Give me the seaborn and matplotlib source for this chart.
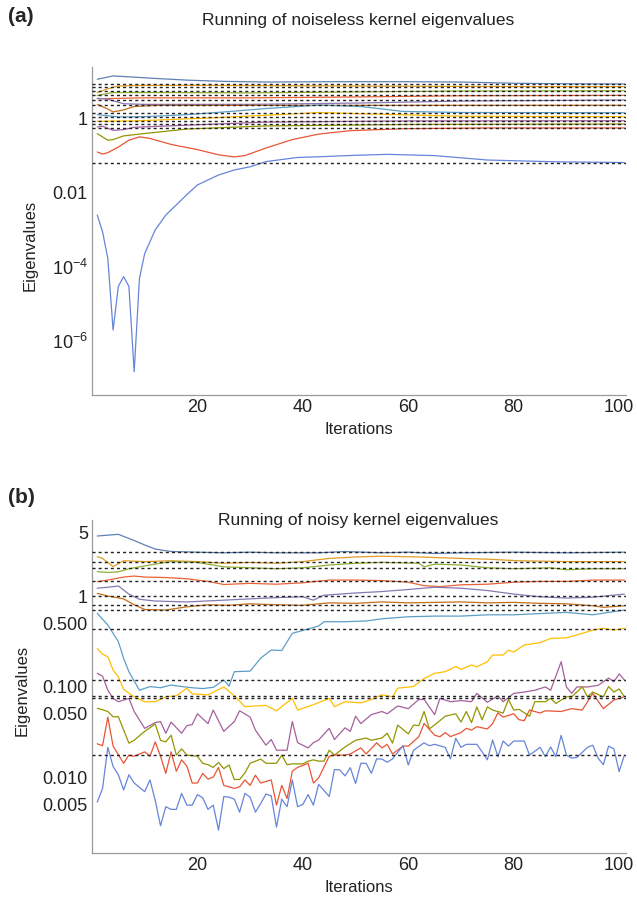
import numpy as np
import pandas as pd
import matplotlib
matplotlib.use('Agg')
import matplotlib.pyplot as plt
import seaborn as sns
from matplotlib.ticker import FixedLocator, FixedFormatter, NullFormatter

# Mathematica default plot colours
palette = ['#5E81B5', '#E19C24', '#8FB032', '#EB6235', '#8778B3', '#C56E1A',
           '#5D9EC7', '#FFBF00', '#A5609D', '#929600', '#E95536', '#6685D9']

# ---------------- (a) noiseless kernel ----------------
a_targets = [8.5, 7.2, 5.6, 4.2, 3.15, 2.27, 1.43, 1.12, 0.87, 0.71, 0.555, 0.062]

a1_it = [1, 4, 8, 12, 18, 25, 33, 45, 60, 70, 80, 90, 101]
a1_val = [11.4, 14, 13, 12, 10.8, 10.0, 9.6, 9.8, 9.8, 9.6, 8.9, 8.6, 8.5]
a2_it = [1, 3, 5, 10, 20, 40, 60, 80, 101]
a2_val = [5.0, 6.3, 7.5, 7.8, 7.8, 7.6, 7.4, 7.25, 7.2]
a3_it = [1, 4, 15, 30, 50, 70, 101]
a3_val = [4.2, 5.0, 5.0, 4.9, 5.2, 5.5, 5.6]
a4_it = [1, 10, 30, 50, 70, 101]
a4_val = [3.4, 3.6, 3.6, 3.8, 4.1, 4.2]
a5_it = [1, 3, 6, 10, 30, 50, 70, 101]
a5_val = [3.5, 3.3, 2.5, 2.4, 2.4, 2.6, 2.95, 3.15]
a6_it = [1, 3, 4, 6, 8, 12, 101]
a6_val = [2.4, 1.8, 1.5, 1.7, 2.1, 2.25, 2.27]
a7_it = [1, 5, 10, 18, 25, 33, 43, 51, 59, 70, 101]
a7_val = [1.27, 1.1, 1.12, 1.27, 1.5, 1.85, 2.3, 2.1, 1.55, 1.45, 1.43]
a8_it = [1, 8, 20, 33, 43, 55, 70, 101]
a8_val = [0.84, 0.86, 1.0, 1.22, 1.45, 1.3, 1.15, 1.12]
a9_it = [1, 2, 4, 6, 8, 18, 33, 60, 101]
a9_val = [0.59, 0.62, 0.48, 0.5, 0.58, 0.66, 0.8, 0.86, 0.87]
a10_it = [1, 3, 4, 6, 9, 18, 33, 60, 101]
a10_val = [0.39, 0.26, 0.27, 0.34, 0.38, 0.52, 0.63, 0.69, 0.71]
a11_it = [1, 2, 3, 5, 7, 9, 11, 15, 20, 24, 27, 29, 33, 38, 43, 49, 59, 75, 101]
a11_val = [0.125, 0.11, 0.12, 0.17, 0.26, 0.32, 0.29, 0.2, 0.145, 0.105, 0.092,
           0.1, 0.16, 0.27, 0.38, 0.47, 0.53, 0.555, 0.555]
a12_it = [1, 2, 3, 4, 5, 6, 7, 8, 9, 10, 12, 14, 18, 20, 24, 27, 30, 33, 39, 43,
          50, 56, 65, 75, 88, 101]
a12_val = [2.5e-3, 8.9e-4, 1.7e-4, 2.0e-6, 3.0e-5, 5.5e-5, 3.0e-5, 1.5e-7, 4.9e-5,
           2.3e-4, 1.0e-3, 2.5e-3, 8.9e-3, 0.0162, 0.030, 0.041, 0.050, 0.069, 0.089,
           0.093, 0.102, 0.108, 0.10, 0.076, 0.068, 0.065]

# ---------------- (b) noisy kernel ----------------
b_targets = [3.09, 2.39, 2.02, 1.46, 1.0, 0.80, 0.70, 0.43, 0.118, 0.079, 0.075, 0.0175]

b1_it = [1, 3, 5, 8, 10, 12, 15, 20, 25, 30, 35, 43, 48, 55, 60, 65, 70, 80, 90, 101]
b1_val = [4.6, 4.7, 4.8, 4.1, 3.66, 3.3, 3.1, 3.05, 3.0, 3.05, 3.0, 3.0, 3.1, 3.0,
          3.05, 2.95, 3.0, 3.05, 3.0, 3.05]
b2_it = [1, 2, 4, 6, 10, 15, 20, 25, 30, 35, 40, 45, 50, 55, 62, 70, 75, 81, 90, 101]
b2_val = [2.72, 2.6, 2.11, 2.45, 2.4, 2.45, 2.4, 2.3, 2.35, 2.3, 2.4, 2.6, 2.7, 2.75,
          2.7, 2.6, 2.55, 2.45, 2.4, 2.4]
b3_it = [1, 3, 5, 7, 9, 12, 15, 20, 25, 30, 35, 40, 45, 50, 55, 62, 63, 65, 70, 75,
         80, 87, 90, 95, 101]
b3_val = [1.86, 1.82, 1.85, 2.0, 2.1, 2.25, 2.4, 2.35, 2.1, 2.05, 2.0, 2.05, 2.2,
          2.3, 2.35, 2.3, 2.1, 2.25, 2.2, 2.05, 2.0, 2.05, 1.95, 2.0, 2.0]
b4_it = [1, 3, 6, 8, 10, 14, 18, 22, 25, 30, 35, 40, 45, 50, 55, 60, 63, 66, 70, 75,
         80, 85, 90, 95, 101]
b4_val = [1.44, 1.5, 1.62, 1.66, 1.62, 1.6, 1.55, 1.45, 1.34, 1.38, 1.35, 1.4, 1.5,
          1.5, 1.48, 1.42, 1.3, 1.27, 1.33, 1.35, 1.42, 1.45, 1.45, 1.5, 1.5]
b5_it = [1, 3, 5, 7, 9, 12, 18, 25, 30, 35, 40, 42, 44, 50, 55, 60, 65, 70, 75, 80,
         85, 90, 95, 101]
b5_val = [1.22, 1.25, 1.29, 1.05, 0.92, 0.88, 0.86, 0.9, 0.93, 0.96, 0.98, 0.9, 1.02,
          1.08, 1.12, 1.18, 1.25, 1.22, 1.15, 1.05, 0.98, 0.95, 0.97, 1.05]
b6_it = [1, 3, 6, 8, 10, 14, 18, 22, 26, 30, 35, 40, 45, 50, 55, 60, 65, 70, 75, 80,
         85, 90, 95, 97, 101]
b6_val = [1.07, 1.0, 0.93, 0.8, 0.71, 0.7, 0.76, 0.8, 0.79, 0.82, 0.8, 0.79, 0.84,
          0.83, 0.86, 0.84, 0.85, 0.86, 0.84, 0.85, 0.83, 0.82, 0.78, 0.75, 0.78]
b7_it = [1, 3, 5, 6, 7, 9, 11, 13, 15, 17, 19, 21, 23, 25, 26, 27, 30, 32, 34, 36,
         38, 43, 44, 48, 52, 55, 60, 65, 70, 75, 80, 85, 90, 95, 101]
b7_val = [0.644, 0.478, 0.313, 0.205, 0.146, 0.091, 0.1, 0.097, 0.104, 0.1, 0.097,
          0.095, 0.098, 0.118, 0.101, 0.146, 0.148, 0.206, 0.253, 0.25, 0.387, 0.466,
          0.52, 0.52, 0.53, 0.56, 0.59, 0.6, 0.6, 0.62, 0.62, 0.64, 0.66, 0.62, 0.70]
b8_it = [1, 2, 3, 4, 5, 6, 8, 10, 12, 14, 16, 18, 19, 22, 25, 27, 29, 33, 35, 38,
         39, 42, 45, 46, 48, 51, 53, 55, 57, 58, 61, 63, 65, 67, 69, 70, 72, 73, 75,
         76, 78, 79, 80, 82, 85, 87, 90, 93, 95, 97, 99, 101]
b8_val = [0.264, 0.228, 0.213, 0.152, 0.128, 0.093, 0.077, 0.068, 0.068, 0.077,
          0.079, 0.096, 0.083, 0.081, 0.099, 0.079, 0.06, 0.062, 0.054, 0.074, 0.055,
          0.063, 0.074, 0.06, 0.068, 0.066, 0.072, 0.081, 0.077, 0.096, 0.1, 0.123,
          0.14, 0.146, 0.166, 0.155, 0.173, 0.165, 0.188, 0.223, 0.223, 0.253, 0.24,
          0.288, 0.305, 0.34, 0.345, 0.387, 0.42, 0.44, 0.42, 0.44]
b9_it = [1, 2, 3, 4, 5, 7, 8, 10, 12, 13, 14, 15, 17, 18, 19, 20, 22, 23, 25, 27,
         28, 30, 31, 33, 34, 35, 37, 38, 39, 41, 42, 43, 45, 46, 48, 49, 50, 51, 53,
         55, 56, 58, 60, 62, 63, 65, 66, 68, 70, 72, 73, 75, 77, 78, 80, 82, 84, 86,
         87, 89, 90, 91, 92, 94, 96, 97, 98, 99, 100, 101]
b9_val = [0.14, 0.13, 0.091, 0.074, 0.068, 0.074, 0.053, 0.0345, 0.04, 0.041, 0.0305,
          0.0405, 0.0305, 0.037, 0.038, 0.05, 0.039, 0.055, 0.032, 0.041, 0.054, 0.046,
          0.033, 0.0225, 0.026, 0.0198, 0.0198, 0.041, 0.024, 0.021, 0.024, 0.0257,
          0.0345, 0.026, 0.035, 0.032, 0.047, 0.039, 0.049, 0.053, 0.05, 0.061, 0.057,
          0.072, 0.072, 0.049, 0.074, 0.068, 0.07, 0.068, 0.084, 0.067, 0.079, 0.068,
          0.084, 0.087, 0.091, 0.099, 0.091, 0.188, 0.099, 0.084, 0.099, 0.099, 0.103,
          0.113, 0.124, 0.113, 0.138, 0.118]
b10_it = [1, 2, 3, 4, 5, 7, 8, 10, 12, 13, 14, 15, 16, 17, 18, 20, 21, 22, 23, 24,
          25, 26, 27, 28, 29, 30, 32, 33, 35, 36, 37, 38, 40, 41, 42, 43, 44, 45, 46,
          48, 50, 52, 53, 55, 56, 57, 58, 60, 61, 62, 63, 64, 66, 67, 69, 70, 71, 72,
          73, 74, 75, 76, 78, 79, 80, 81, 83, 84, 85, 86, 87, 88, 90, 91, 93, 94, 95,
          97, 98, 99, 100, 101]
b10_val = [0.0575, 0.0555, 0.053, 0.0464, 0.0464, 0.0237, 0.0255, 0.032, 0.0385,
           0.0255, 0.0245, 0.029, 0.0175, 0.0205, 0.0175, 0.017, 0.0142, 0.0137,
           0.0128, 0.0145, 0.0124, 0.0136, 0.0094, 0.0094, 0.0111, 0.0142, 0.0158,
           0.0142, 0.0142, 0.0175, 0.0137, 0.014, 0.014, 0.015, 0.0155, 0.015, 0.015,
           0.0198, 0.0175, 0.0215, 0.0255, 0.027, 0.0255, 0.027, 0.0305, 0.0237,
           0.0375, 0.030, 0.0375, 0.037, 0.053, 0.034, 0.042, 0.047, 0.05, 0.0405,
           0.053, 0.04, 0.0596, 0.043, 0.0596, 0.055, 0.051, 0.072, 0.055, 0.056,
           0.047, 0.068, 0.068, 0.068, 0.074, 0.065, 0.077, 0.077, 0.099, 0.077,
           0.087, 0.077, 0.1, 0.087, 0.094, 0.077]
b11_it = [1, 2, 3, 4, 6, 7, 8, 10, 11, 12, 13, 14, 15, 16, 17, 18, 19, 20, 21, 22,
          23, 24, 25, 26, 27, 28, 29, 30, 31, 32, 34, 35, 36, 37, 38, 39, 41, 42, 43,
          45, 46, 48, 49, 51, 52, 54, 55, 56, 57, 59, 60, 62, 63, 65, 66, 67, 68, 70,
          71, 72, 73, 75, 76, 77, 78, 80, 81, 82, 83, 85, 86, 89, 91, 93, 95, 97, 99,
          101]
b11_val = [0.0233, 0.0222, 0.046, 0.022, 0.0142, 0.0175, 0.017, 0.019, 0.017, 0.0245,
           0.017, 0.011, 0.019, 0.0116, 0.0155, 0.0132, 0.0086, 0.0086, 0.011, 0.0095,
           0.010, 0.0128, 0.0081, 0.0078, 0.0075, 0.0078, 0.0093, 0.0081, 0.0105,
           0.0086, 0.0093, 0.0049, 0.0081, 0.0058, 0.0116, 0.0128, 0.0142, 0.0086,
           0.0098, 0.017, 0.0175, 0.0175, 0.018, 0.021, 0.018, 0.0239, 0.021, 0.023,
           0.018, 0.022, 0.022, 0.0279, 0.0391, 0.029, 0.0279, 0.031, 0.028, 0.031,
           0.0345, 0.033, 0.036, 0.034, 0.039, 0.0512, 0.046, 0.05, 0.043, 0.042,
           0.055, 0.051, 0.054, 0.053, 0.057, 0.055, 0.084, 0.057, 0.071, 0.077]
b12_it = [1, 2, 3, 4, 5, 6, 7, 8, 10, 11, 12, 13, 14, 15, 16, 17, 18, 19, 20, 21,
          22, 23, 24, 25, 26, 27, 28, 29, 30, 31, 32, 33, 34, 35, 36, 37, 38, 39, 40,
          41, 42, 43, 45, 46, 47, 48, 49, 50, 51, 52, 53, 54, 55, 56, 57, 59, 60, 61,
          63, 64, 65, 67, 68, 69, 70, 71, 73, 74, 75, 76, 77, 78, 79, 80, 82, 83, 85,
          86, 87, 88, 89, 90, 91, 92, 94, 95, 96, 97, 98, 99, 100, 101]
b12_val = [0.0053, 0.0075, 0.0213, 0.0131, 0.0106, 0.0072, 0.0106, 0.0086, 0.0069,
           0.0093, 0.0055, 0.0029, 0.0047, 0.0044, 0.0044, 0.0066, 0.0049, 0.0049,
           0.0064, 0.0059, 0.0044, 0.0049, 0.0026, 0.0061, 0.006, 0.0057, 0.0041,
           0.0066, 0.006, 0.0041, 0.0051, 0.0065, 0.0062, 0.0028, 0.0057, 0.0047,
           0.0093, 0.0047, 0.005, 0.0064, 0.0049, 0.0083, 0.0061, 0.0121, 0.012,
           0.0103, 0.0127, 0.0085, 0.0142, 0.0142, 0.011, 0.0159, 0.0158, 0.0146,
           0.0159, 0.0222, 0.0136, 0.0198, 0.0239, 0.0222, 0.023, 0.0213, 0.0159,
           0.0268, 0.0213, 0.023, 0.023, 0.019, 0.0155, 0.0257, 0.0168, 0.025, 0.022,
           0.025, 0.025, 0.0175, 0.0213, 0.0168, 0.0215, 0.0168, 0.0289, 0.0175,
           0.0162, 0.0165, 0.0213, 0.0225, 0.0162, 0.0137, 0.022, 0.0205, 0.0115, 0.0175]

a_series = [(a1_it, a1_val), (a2_it, a2_val), (a3_it, a3_val), (a4_it, a4_val),
            (a5_it, a5_val), (a6_it, a6_val), (a7_it, a7_val), (a8_it, a8_val),
            (a9_it, a9_val), (a10_it, a10_val), (a11_it, a11_val), (a12_it, a12_val)]
b_series = [(b1_it, b1_val), (b2_it, b2_val), (b3_it, b3_val), (b4_it, b4_val),
            (b5_it, b5_val), (b6_it, b6_val), (b7_it, b7_val), (b8_it, b8_val),
            (b9_it, b9_val), (b10_it, b10_val), (b11_it, b11_val), (b12_it, b12_val)]


def to_frame(series):
    parts = []
    for k, (its, vals) in enumerate(series):
        parts.append(pd.DataFrame({'iteration': its, 'eigenvalue': vals,
                                   'line': 'L%d' % (k + 1)}))
    return pd.concat(parts, ignore_index=True)


sns.set_style('white')
plt.rcParams['font.family'] = ['Liberation Sans', 'DejaVu Sans']
plt.rcParams['mathtext.fontset'] = 'custom'
plt.rcParams['mathtext.rm'] = 'Liberation Sans'
plt.rcParams['mathtext.it'] = 'Liberation Sans'

W, H = 637, 905
fig = plt.figure(figsize=(W / 100, H / 100), dpi=100)

axis_grey = '#9a9a9a'
order = ['L%d' % (k + 1) for k in range(12)]


def style_axis(ax):
    for s in ['top', 'right']:
        ax.spines[s].set_visible(False)
    for s in ['left', 'bottom']:
        ax.spines[s].set_color(axis_grey)
        ax.spines[s].set_linewidth(0.9)
    ax.set_xlim(0, 101.3)
    ax.xaxis.set_major_locator(FixedLocator([20, 40, 60, 80, 100]))
    ax.xaxis.set_minor_locator(FixedLocator([5, 10, 15, 25, 30, 35, 45, 50, 55, 65,
                                             70, 75, 85, 90, 95]))
    ax.tick_params(which='both', direction='in', color=axis_grey, labelcolor='#222222',
                   labelsize=13, pad=3)
    ax.tick_params(which='major', length=5, width=0.9)
    ax.tick_params(which='minor', length=2.5, width=0.7)
    ax.set_xlabel('Iterations', fontsize=12, color='#222222', labelpad=4)
    ax.set_ylabel('')


# ---- panel (a)
ax1 = fig.add_axes([92 / W, 1 - 395 / H, 534 / W, 328.4 / H])
ax1.set_yscale('log')
sns.lineplot(data=to_frame(a_series), x='iteration', y='eigenvalue', hue='line',
             hue_order=order, palette=palette, estimator=None, legend=False,
             linewidth=0.9, ax=ax1)
for t in a_targets:
    ax1.axhline(t, color='#222222', lw=1.0, ls=(0, (2.2, 2.2)), zorder=5)
ax1.set_ylim(10 ** -7.45, 25)
style_axis(ax1)
ax1.yaxis.set_major_locator(FixedLocator([1e-6, 1e-4, 1e-2, 1]))
ax1.yaxis.set_major_formatter(FixedFormatter([r'$10^{-6}$', r'$10^{-4}$', '0.01', '1']))
ax1.yaxis.set_minor_locator(FixedLocator([1e-7, 1e-5, 1e-3, 1e-1, 10]))
ax1.yaxis.set_minor_formatter(NullFormatter())

# ---- panel (b)
ax2 = fig.add_axes([92 / W, 1 - 853 / H, 534 / W, 333.5 / H])
ax2.set_yscale('log')
sns.lineplot(data=to_frame(b_series), x='iteration', y='eigenvalue', hue='line',
             hue_order=order, palette=palette, estimator=None, legend=False,
             linewidth=0.9, ax=ax2)
for t in b_targets:
    ax2.axhline(t, color='#222222', lw=1.0, ls=(0, (2.2, 2.2)), zorder=5)
ax2.set_ylim(1.45e-3, 7)
style_axis(ax2)
ax2.yaxis.set_major_locator(FixedLocator([0.005, 0.01, 0.05, 0.1, 0.5, 1, 5]))
ax2.yaxis.set_major_formatter(FixedFormatter(['0.005', '0.010', '0.050', '0.100',
                                              '0.500', '1', '5']))
minors = [m * 10.0 ** e for e in (-3, -2, -1, 0) for m in range(2, 10)]
minors = [v for v in minors if v not in (0.005, 0.05, 0.5, 5)]
ax2.yaxis.set_minor_locator(FixedLocator(minors))
ax2.yaxis.set_minor_formatter(NullFormatter())

# ---- texts
fig.text(358 / W, 1 - 20 / H, 'Running of noiseless kernel eigenvalues',
         ha='center', va='center', fontsize=12.5, color='#222222')
fig.text(358 / W, 1 - 521 / H, 'Running of noisy kernel eigenvalues',
         ha='center', va='center', fontsize=12.5, color='#222222')
fig.text(8 / W, 1 - 16 / H, '(a)', ha='left', va='center', fontsize=15,
         fontweight='bold')
fig.text(8 / W, 1 - 497 / H, '(b)', ha='left', va='center', fontsize=15,
         fontweight='bold')
fig.text(30 / W, 1 - 245 / H, 'Eigenvalues', ha='center', va='center',
         rotation=90, fontsize=12, color='#222222')
fig.text(22 / W, 1 - 690 / H, 'Eigenvalues', ha='center', va='center',
         rotation=90, fontsize=12, color='#222222')

fig.savefig('out.png', dpi=100)
